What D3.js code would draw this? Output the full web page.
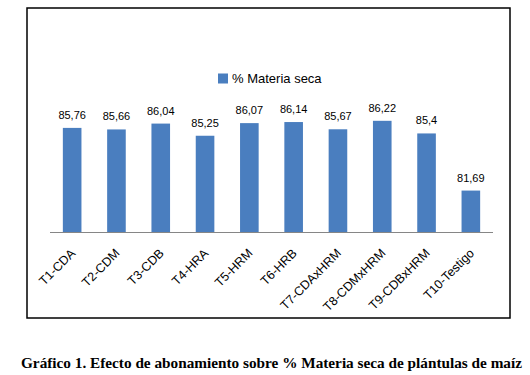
<!DOCTYPE html>
<html lang="es">
<head>
    <meta charset="UTF-8">
    <title>Gráfico 1 - % Materia seca</title>
    <script src="https://d3js.org/d3.v7.min.js"></script>
    <style>
        body { margin: 0; background: #fff; }
        svg { display: block; }
        .sans { font-family: "Liberation Sans", Arial, sans-serif; }
        .caption { font-family: "Liberation Serif", "DejaVu Serif", serif; font-weight: bold; }
    </style>
</head>
<body>
    <svg id="chart" width="530" height="375"></svg>
    <script>
        // Data
        const categories = ["T1-CDA", "T2-CDM", "T3-CDB", "T4-HRA", "T5-HRM", "T6-HRB",
                            "T7-CDAxHRM", "T8-CDMxHRM", "T9-CDBxHRM", "T10-Testigo"];
        const values = [85.76, 85.66, 86.04, 85.25, 86.07, 86.14, 85.67, 86.22, 85.4, 81.69];
        const valueLabels = ["85,76", "85,66", "86,04", "85,25", "86,07", "86,14", "85,67", "86,22", "85,4", "81,69"];
        const seriesName = "% Materia seca";
        const caption = "Gráfico 1. Efecto de abonamiento sobre % Materia seca de plántulas de maíz";

        const svg = d3.select("#chart");
        const barColor = "#4a7ebf";

        // frame around the chart
        svg.append("rect")
            .attr("x", 27).attr("y", 8)
            .attr("width", 483).attr("height", 310)
            .attr("fill", "none")
            .attr("stroke", "#000")
            .attr("stroke-width", 1.5);

        // scales
        const x = d3.scaleBand()
            .domain(categories)
            .range([50, 493])
            .paddingInner(0.58)
            .paddingOuter(0.29);

        const y = d3.scaleLinear()
            .domain([79, 89])
            .range([232, 78]);

        // bars
        svg.append("g")
            .selectAll("rect")
            .data(values)
            .enter()
            .append("rect")
            .attr("x", (d, i) => x(categories[i]))
            .attr("y", d => y(d))
            .attr("width", x.bandwidth())
            .attr("height", d => y(79) - y(d))
            .attr("fill", barColor);

        // value labels
        svg.append("g")
            .selectAll("text")
            .data(values)
            .enter()
            .append("text")
            .attr("class", "sans")
            .attr("x", (d, i) => x(categories[i]) + x.bandwidth() / 2)
            .attr("y", d => y(d) - 9)
            .attr("text-anchor", "middle")
            .attr("font-size", 11)
            .attr("fill", "#000")
            .text((d, i) => valueLabels[i]);

        // x axis line and rotated labels
        const xAxis = svg.append("g")
            .attr("transform", "translate(0,232)")
            .call(d3.axisBottom(x).tickSize(0).tickPadding(0));
        xAxis.attr("font-family", null).attr("font-size", null);
        xAxis.select(".domain").attr("stroke", "#868686").attr("d", "M50,0.5H493");
        xAxis.selectAll(".tick text")
            .attr("class", "sans")
            .attr("font-size", 12.5)
            .attr("fill", "#000")
            .attr("text-anchor", "end")
            .attr("dy", 0)
            .attr("transform", "translate(4,22) rotate(-45)");

        // legend
        const legend = svg.append("g");
        legend.append("rect")
            .attr("x", 218).attr("y", 73.5)
            .attr("width", 10).attr("height", 10)
            .attr("fill", barColor);
        legend.append("text")
            .attr("class", "sans")
            .attr("x", 232).attr("y", 83)
            .attr("font-size", 13)
            .attr("fill", "#000")
            .text(seriesName);

        // caption below the frame
        svg.append("text")
            .attr("class", "caption")
            .attr("x", 21).attr("y", 368)
            .attr("font-size", 14)
            .attr("textLength", 501)
            .attr("lengthAdjust", "spacingAndGlyphs")
            .attr("fill", "#000")
            .text(caption);
    </script>
</body>
</html>
